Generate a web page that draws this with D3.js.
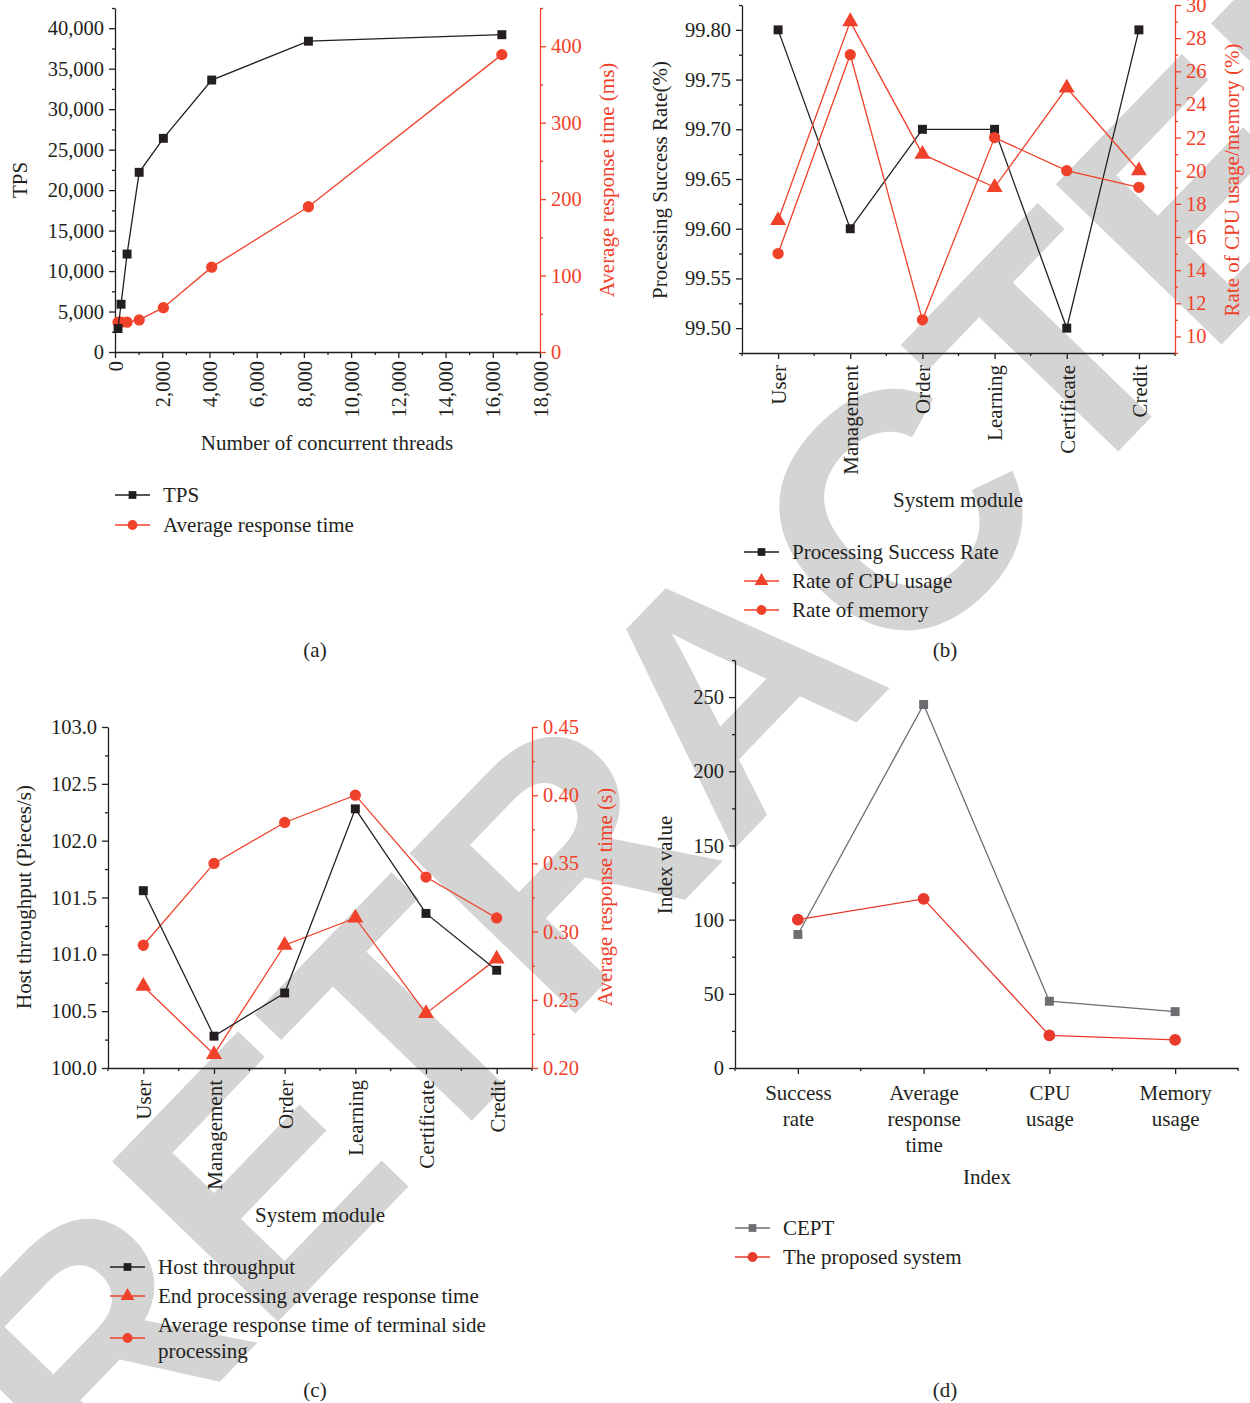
<!DOCTYPE html>
<html>
<head>
<meta charset="utf-8">
<script src="https://cdn.jsdelivr.net/npm/d3@7"></script>
<style>
  body { margin: 0; background: #fff; }
  svg { display: block; }
  text { font-family: "Liberation Serif", "DejaVu Serif", serif; }
</style>
</head>
<body>
<svg id="fig"></svg>
<script>
// (a) TPS vs concurrent threads
const threads = [128, 256, 512, 1024, 2048, 4096, 8192, 16384];
const tps = [2900, 5900, 12100, 22200, 26400, 33600, 38400, 39200];
const respMs = [39, 39, 39, 42, 58, 111, 190, 389];
const aTicksX = [0, 2000, 4000, 6000, 8000, 10000, 12000, 14000, 16000, 18000];
const aTicksL = [0, 5000, 10000, 15000, 20000, 25000, 30000, 35000, 40000];
const aTicksR = [0, 100, 200, 300, 400];

// (b) success rate / CPU / memory per module
const modules = ["User", "Management", "Order", "Learning", "Certificate", "Credit"];
const successRate = [99.80, 99.60, 99.70, 99.70, 99.50, 99.80];
const cpuUsage = [17, 29, 21, 19, 25, 20];
const memUsage = [15, 27, 11, 22, 20, 19];
const bTicksL = [99.50, 99.55, 99.60, 99.65, 99.70, 99.75, 99.80];
const bTicksR = [10, 12, 14, 16, 18, 20, 22, 24, 26, 28, 30];

// (c) host throughput / response times per module
const hostThroughput = [101.56, 100.28, 100.66, 102.28, 101.36, 100.86];
const endRespTime = [0.26, 0.21, 0.29, 0.31, 0.24, 0.28];
const terminalRespTime = [0.29, 0.35, 0.38, 0.40, 0.34, 0.31];
const cTicksL = [100.0, 100.5, 101.0, 101.5, 102.0, 102.5, 103.0];
const cTicksR = [0.20, 0.25, 0.30, 0.35, 0.40, 0.45];

// (d) CEPT vs proposed
const indexNames = ["Success rate", "Average response time", "CPU usage", "Memory usage"];
const indexLabels = [["Success", "rate"], ["Average", "response", "time"], ["CPU", "usage"], ["Memory", "usage"]];
const cept = [90, 245, 45, 38];
const proposed = [100, 114, 22, 19];
const dTicks = [0, 50, 100, 150, 200, 250];

const W = 1250, H = 1403;
const INK = "#231f20", RED = "#f0412a", RED_D = "#e8392d", GRAY = "#6d6e71";
const TICK_FS = 20.5, LABEL_FS = 21;

const svg = d3.select("#fig")
  .attr("width", W)
  .attr("height", H)
  .attr("viewBox", [0, 0, W, H]);

// watermark behind everything
svg.append("text")
  .attr("transform", "translate(725,685) rotate(-46)")
  .attr("text-anchor", "middle")
  .attr("dy", "0.36em")
  .style("font-family", "Liberation Sans, Arial, sans-serif")
  .attr("font-weight", "bold")
  .attr("font-size", 335)
  .attr("fill", "#d4d4d4")
  .text("RETRACTED");

// midpoints between tick values that fall inside the domain
function minors(ticks, domain) {
  const step = ticks[1] - ticks[0];
  const out = [];
  for (let v = ticks[0] - step / 2; v <= ticks[ticks.length - 1] + step / 2 + 1e-9; v += step) {
    if (v >= domain[0] - 1e-9 && v <= domain[1] + 1e-9) out.push(v);
  }
  return out;
}

function yAxis(x, scale, ticks, fmt, side, color) {
  const mk = () => side === "left" ? d3.axisLeft(scale) : d3.axisRight(scale);
  const g = svg.append("g").attr("transform", `translate(${x},0)`);
  g.call(mk().tickValues(ticks).tickSize(6).tickSizeOuter(0).tickFormat(fmt).tickPadding(5));
  g.append("g").call(mk().tickValues(minors(ticks, scale.domain())).tickSize(3).tickFormat(""))
    .call(s => s.select(".domain").remove());
  g.selectAll("path, line").attr("stroke", color).attr("stroke-width", 1.3);
  g.selectAll("text").attr("fill", color).attr("font-size", TICK_FS)
    .style("font-family", "Liberation Serif, serif");
  return g;
}

// category axis: major ticks on the points, minor ticks half way between
function xAxisPoint(y, scale, n) {
  const g = svg.append("g").attr("transform", `translate(0,${y})`);
  g.call(d3.axisBottom(scale).tickSize(6).tickSizeOuter(0).tickFormat(""));
  const step = scale.step();
  const r0 = scale.range()[0];
  g.append("g").selectAll("line")
    .data(d3.range(0, n + 1))
    .join("line")
      .attr("x1", i => r0 + i * step)
      .attr("x2", i => r0 + i * step)
      .attr("y2", 3);
  g.selectAll("path, line").attr("stroke", INK).attr("stroke-width", 1.3);
  g.selectAll(".tick text").remove();
  return g;
}

function rotatedLabels(g) {
  g.selectAll(".tick").append("text")
    .attr("transform", "rotate(-90)")
    .attr("text-anchor", "end")
    .attr("x", -12).attr("dy", "0.35em")
    .attr("fill", INK).attr("font-size", LABEL_FS)
    .text(d => d);
}

function title(x, y, txt, rot, color) {
  svg.append("text")
    .attr("transform", `translate(${x},${y})` + (rot ? " rotate(-90)" : ""))
    .attr("text-anchor", "middle")
    .attr("dy", "0.35em")
    .attr("fill", color || INK)
    .attr("font-size", LABEL_FS)
    .text(txt);
}

function series(xs, ys, sx, sy, color, shape, size) {
  const pts = xs.map((d, i) => [sx(d), sy(ys[i])]);
  svg.append("path")
    .attr("d", d3.line()(pts))
    .attr("fill", "none")
    .attr("stroke", color)
    .attr("stroke-width", 1.3);
  svg.append("g").selectAll("path")
    .data(pts)
    .join("path")
      .attr("transform", d => `translate(${d[0]},${d[1]})`)
      .attr("d", d3.symbol(shape, size))
      .attr("fill", color);
}

function legend(x, y, color, shape, size, lines) {
  svg.append("line")
    .attr("x1", x).attr("x2", x + 35).attr("y1", y).attr("y2", y)
    .attr("stroke", color).attr("stroke-width", 1.5);
  svg.append("path")
    .attr("transform", `translate(${x + 17.5},${y})`)
    .attr("d", d3.symbol(shape, size * 0.75))
    .attr("fill", color);
  const t = svg.append("text")
    .attr("y", lines.length > 1 ? y - 13 : y)
    .attr("font-size", LABEL_FS)
    .attr("fill", INK);
  lines.forEach((l, i) => t.append("tspan").attr("x", x + 48).attr("dy", i ? 26 : "0.35em").text(l));
}

const SQ = 80, CI = 100, TR = 110;

// ---------- (a) ----------
{
  const x = d3.scaleLinear([0, 18000], [115, 540]);
  const yL = d3.scaleLinear([0, 42500], [352, 8]);
  const yR = d3.scaleLinear([0, 450], [352, 8]);

  const gx = svg.append("g").attr("transform", "translate(0,352)");
  gx.call(d3.axisBottom(x).tickValues(aTicksX).tickSize(6).tickSizeOuter(0).tickFormat(d3.format(",")));
  gx.append("g").call(d3.axisBottom(x).tickValues(d3.range(1000, 18000, 2000)).tickSize(3).tickFormat(""))
    .call(s => s.select(".domain").remove());
  gx.selectAll("path, line").attr("stroke", INK).attr("stroke-width", 1.3);
  gx.selectAll(".tick text")
    .attr("transform", "rotate(-90)")
    .attr("text-anchor", "end")
    .attr("x", -9).attr("y", 0).attr("dy", "0.35em")
    .attr("fill", INK).attr("font-size", TICK_FS)
    .style("font-family", "Liberation Serif, serif");

  yAxis(115, yL, aTicksL, d3.format(","), "left", INK);
  yAxis(540, yR, aTicksR, d3.format("d"), "right", RED);

  series(threads, respMs, x, yR, RED, d3.symbolCircle, CI);
  series(threads, tps, x, yL, INK, d3.symbolSquare, SQ);

  title(20, 180, "TPS", true);
  title(607, 180, "Average response time (ms)", true, RED);
  title(327, 443, "Number of concurrent threads");

  legend(115, 495, INK, d3.symbolSquare, SQ, ["TPS"]);
  legend(115, 525, RED, d3.symbolCircle, CI, ["Average response time"]);
  title(315, 650, "(a)");
}

// ---------- (b) ----------
{
  const x = d3.scalePoint(modules, [742, 1175]).padding(0.5);
  const yL = d3.scaleLinear([99.475, 99.825], [353, 5]);
  const yR = d3.scaleLinear([9, 30], [353, 5]);

  rotatedLabels(xAxisPoint(353, x, modules.length));

  yAxis(742, yL, bTicksL, d3.format(".2f"), "left", INK);
  yAxis(1175, yR, bTicksR, d3.format("d"), "right", RED);

  series(modules, successRate, x, yL, INK, d3.symbolSquare, SQ);
  series(modules, cpuUsage, x, yR, RED, d3.symbolTriangle, TR);
  series(modules, memUsage, x, yR, RED, d3.symbolCircle, CI);

  title(660, 180, "Processing Success Rate(%)", true);
  title(1232, 180, "Rate of CPU usage/memory (%)", true, RED);
  title(958, 500, "System module");

  legend(744, 552, INK, d3.symbolSquare, SQ, ["Processing Success Rate"]);
  legend(744, 581, RED, d3.symbolTriangle, TR, ["Rate of CPU usage"]);
  legend(744, 610, RED, d3.symbolCircle, CI, ["Rate of memory"]);
  title(945, 650, "(b)");
}

// ---------- (c) ----------
{
  const x = d3.scalePoint(modules, [108, 532]).padding(0.5);
  const yL = d3.scaleLinear([100, 103], [1068, 727]);
  const yR = d3.scaleLinear([0.20, 0.45], [1068, 727]);

  rotatedLabels(xAxisPoint(1068, x, modules.length));

  yAxis(108, yL, cTicksL, d3.format(".1f"), "left", INK);
  yAxis(532, yR, cTicksR, d3.format(".2f"), "right", RED);

  series(modules, terminalRespTime, x, yR, RED, d3.symbolCircle, CI);
  series(modules, endRespTime, x, yR, RED, d3.symbolTriangle, TR);
  series(modules, hostThroughput, x, yL, INK, d3.symbolSquare, SQ);

  title(24, 897, "Host throughput (Pieces/s)", true);
  title(605, 897, "Average response time (s)", true, RED);
  title(320, 1215, "System module");

  legend(110, 1267, INK, d3.symbolSquare, SQ, ["Host throughput"]);
  legend(110, 1296, RED, d3.symbolTriangle, TR, ["End processing average response time"]);
  legend(110, 1338, RED, d3.symbolCircle, CI, ["Average response time of terminal side", "processing"]);
  title(315, 1390, "(c)");
}

// ---------- (d) ----------
{
  const x = d3.scalePoint(indexNames, [735, 1238]).padding(0.5);
  const y = d3.scaleLinear([0, 275], [1068, 660]);

  const gx = xAxisPoint(1068, x, indexNames.length);
  gx.selectAll(".tick").append("text")
    .attr("text-anchor", "middle")
    .attr("y", 25)
    .attr("fill", INK).attr("font-size", LABEL_FS)
    .selectAll("tspan")
    .data((d, i) => indexLabels[i])
    .join("tspan")
      .attr("x", 0)
      .attr("dy", (d, i) => i ? 26 : "0.35em")
      .text(d => d);

  yAxis(735, y, dTicks, d3.format("d"), "left", INK);

  series(indexNames, cept, x, y, GRAY, d3.symbolSquare, SQ);
  series(indexNames, proposed, x, y, RED_D, d3.symbolCircle, CI + 10);

  title(665, 865, "Index value", true);
  title(987, 1177, "Index");

  legend(735, 1228, GRAY, d3.symbolSquare, SQ, ["CEPT"]);
  legend(735, 1257, RED_D, d3.symbolCircle, CI, ["The proposed system"]);
  title(945, 1390, "(d)");
}
</script>
</body>
</html>
